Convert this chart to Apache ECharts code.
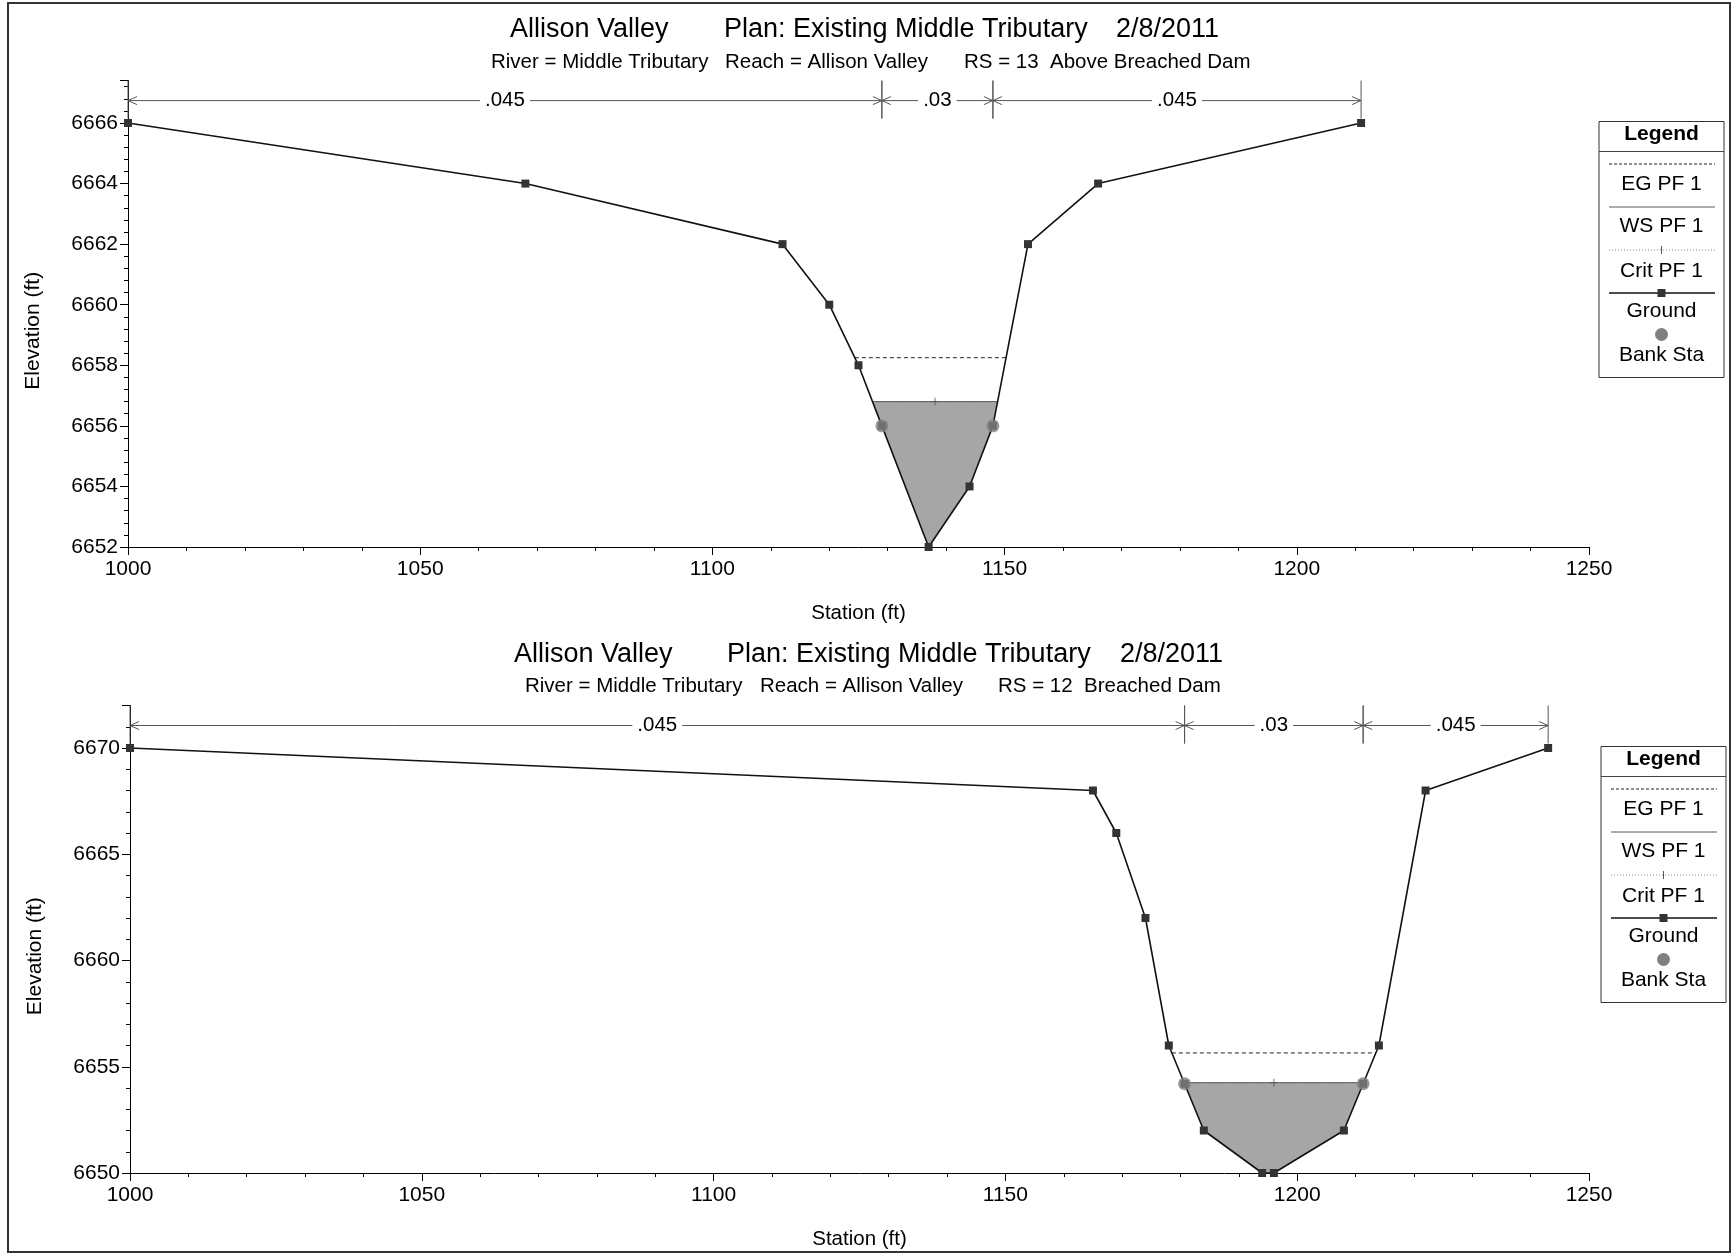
<!DOCTYPE html>
<html>
<head>
<meta charset="utf-8">
<script src="https://cdn.jsdelivr.net/npm/echarts@6/dist/echarts.min.js"></script>
<style>
  html, body { margin: 0; padding: 0; background: #fff; }
  #chart { width: 1733px; height: 1257px; }
</style>
</head>
<body>
<div id="chart"></div>
<script>
// ---- RS 13 : Above Breached Dam ----
const rs13Station = [1000, 1068, 1112, 1120, 1125, 1129, 1137, 1144, 1148, 1154, 1166, 1211];
const rs13Elev    = [6666, 6664, 6662, 6660, 6658, 6656, 6652, 6654, 6656, 6662, 6664, 6666];
const rs13Banks   = [1129, 1148];
const rs13WS   = 6656.8;
const rs13EG   = 6658.25;
const rs13Crit = 6656.8;
const rs13N    = ['.045', '.03', '.045'];
const rs13YTicks = [6652, 6654, 6656, 6658, 6660, 6662, 6664, 6666];

// ---- RS 12 : Breached Dam ----
const rs12Station = [1000, 1165, 1169, 1174, 1178, 1180.7, 1184, 1194, 1196, 1208, 1211.3, 1214, 1222, 1243];
const rs12Elev    = [6670, 6668, 6666, 6662, 6656, 6654.2, 6652, 6650, 6650, 6652, 6654.2, 6656, 6668, 6670];
const rs12Banks   = [1180.7, 1211.3];
const rs12WS   = 6654.25;
const rs12EG   = 6655.65;
const rs12Crit = 6654.25;
const rs12N    = ['.045', '.03', '.045'];
const rs12YTicks = [6650, 6655, 6660, 6665, 6670];

const xTicks = [1000, 1050, 1100, 1150, 1200, 1250];

const FONT = '"Liberation Sans", Arial, Helvetica, sans-serif';

// where a horizontal level meets the ground on either side of the thalweg
function levelEdges(st, el, level) {
  let m = 0;
  for (let k = 1; k < el.length; k++) if (el[k] < el[m]) m = k;
  let i = m;
  while (i > 0 && el[i - 1] < level) i--;
  let j = m;
  while (j < el.length - 1 && el[j + 1] < level) j++;
  const interp = (a, b) => st[a] + (level - el[a]) * (st[b] - st[a]) / (el[b] - el[a]);
  const left = i > 0 ? interp(i - 1, i) : st[0];
  const right = j < el.length - 1 ? interp(j + 1, j) : st[st.length - 1];
  return { left, right, i, j };
}

function elevAt(st, el, x) {
  for (let k = 0; k < st.length - 1; k++) {
    if (x >= st[k] && x <= st[k + 1]) {
      return el[k] + (x - st[k]) * (el[k + 1] - el[k]) / (st[k + 1] - st[k]);
    }
  }
  return el[el.length - 1];
}

function sectionSeries(idx, st, el, banks, ws, eg, crit, nLabels, yMin) {
  const ground = st.map((s, k) => [s, el[k]]);
  const wsE = levelEdges(st, el, ws);
  const egE = levelEdges(st, el, eg);
  const crE = levelEdges(st, el, crit);
  const water = [[wsE.left, ws]];
  for (let k = wsE.i; k <= wsE.j; k++) water.push([st[k], el[k]]);
  water.push([wsE.right, ws]);

  const bounds = [st[0], banks[0], banks[1], st[st.length - 1]];
  const reachData = nLabels.map((_, k) => [bounds[k], bounds[k + 1], yMin]);

  const base = { xAxisIndex: idx, yAxisIndex: idx, animation: false, silent: true };
  return [
    Object.assign({}, base, {
      type: 'custom',
      z: 1,
      data: [[water[0][0], water[0][1]]],
      renderItem: (params, api) => ({
        type: 'polygon',
        shape: { points: water.map(p => api.coord(p)) },
        style: { fill: '#a6a6a6' }
      })
    }),
    Object.assign({}, base, {
      type: 'line', name: 'Crit PF 1', z: 2, symbol: 'none',
      data: [[crE.left, crit], [crE.right, crit]],
      lineStyle: { color: '#888', width: 1, type: [1, 2] }
    }),
    Object.assign({}, base, {
      type: 'scatter', z: 3,
      data: [[(crE.left + crE.right) / 2, crit]],
      symbol: 'path://M5,0 L5,10 M0,5 L10,5', symbolSize: 8,
      itemStyle: { color: 'none', borderColor: '#555', borderWidth: 1 }
    }),
    Object.assign({}, base, {
      type: 'line', name: 'WS PF 1', z: 3, symbol: 'none',
      data: [[wsE.left, ws], [wsE.right, ws]],
      lineStyle: { color: '#5a5a5a', width: 1 }
    }),
    Object.assign({}, base, {
      type: 'line', name: 'EG PF 1', z: 3, symbol: 'none',
      data: [[egE.left, eg], [egE.right, eg]],
      lineStyle: { color: '#222', width: 1, type: [4, 3] }
    }),
    Object.assign({}, base, {
      type: 'line', name: 'Ground', z: 4,
      data: ground,
      symbol: 'rect', symbolSize: 8, showSymbol: true,
      itemStyle: { color: '#333' },
      lineStyle: { color: '#111', width: 1.6 }
    }),
    Object.assign({}, base, {
      type: 'scatter', name: 'Bank Sta', z: 5,
      data: banks.map(b => [b, elevAt(st, el, b)]),
      symbol: 'circle', symbolSize: 13,
      itemStyle: { color: '#808080' }
    }),
    Object.assign({}, base, {
      type: 'custom', z: 6, clip: false,
      data: reachData,
      encode: { x: [0, 1], y: 2 },
      renderItem: (params, api) => {
        const cs = params.coordSys;
        const p1 = api.coord([api.value(0), api.value(2)])[0];
        const p2 = api.coord([api.value(1), api.value(2)])[0];
        const y = cs.y + 20, yT = cs.y, yB = cs.y + 38;
        const stroke = { stroke: '#555', lineWidth: 1, fill: 'none' };
        return {
          type: 'group',
          children: [
            { type: 'line', shape: { x1: p1, y1: y, x2: p2, y2: y }, style: stroke },
            { type: 'polyline', shape: { points: [[p1 + 9, y - 4], [p1, y], [p1 + 9, y + 4]] }, style: stroke },
            { type: 'polyline', shape: { points: [[p2 - 9, y - 4], [p2, y], [p2 - 9, y + 4]] }, style: stroke },
            { type: 'line', shape: { x1: p1, y1: yT, x2: p1, y2: yB }, style: stroke },
            { type: 'line', shape: { x1: p2, y1: yT, x2: p2, y2: yB }, style: stroke },
            {
              type: 'text', z2: 10,
              style: {
                text: nLabels[params.dataIndex], x: (p1 + p2) / 2, y: y,
                align: 'center', verticalAlign: 'middle',
                fontSize: 20.5, fontFamily: FONT, fill: '#000',
                backgroundColor: '#fff', padding: [0, 5]
              }
            }
          ]
        };
      }
    })
  ];
}

function xAxisFor(idx) {
  return {
    type: 'value', gridIndex: idx,
    min: xTicks[0], max: xTicks[xTicks.length - 1], interval: xTicks[1] - xTicks[0],
    axisLine: { show: true, onZero: false, lineStyle: { color: '#000', width: 1 } },
    axisTick: { show: true, length: 8, lineStyle: { color: '#000' } },
    minorTick: { show: true, splitNumber: 5, length: 4, lineStyle: { color: '#000' } },
    splitLine: { show: false },
    axisLabel: { fontSize: 21, fontFamily: FONT, color: '#000', margin: 12, formatter: v => String(v) },
    name: 'Station (ft)', nameLocation: 'middle', nameGap: 56,
    nameTextStyle: { fontSize: 20.5, fontFamily: FONT, color: '#000' }
  };
}

function yAxisFor(idx, ticks, max) {
  return {
    type: 'value', gridIndex: idx,
    min: ticks[0], max: max, interval: ticks[1] - ticks[0],
    axisLine: { show: true, onZero: false, lineStyle: { color: '#000', width: 1 } },
    axisTick: { show: true, length: 8, lineStyle: { color: '#000' } },
    minorTick: { show: true, splitNumber: 5, length: 4, lineStyle: { color: '#000' } },
    splitLine: { show: false },
    axisLabel: {
      fontSize: 21, fontFamily: FONT, color: '#000', margin: 10, showMaxLabel: false,
      formatter: v => (ticks.indexOf(v) >= 0 ? String(v) : '')
    },
    name: 'Elevation (ft)', nameLocation: 'middle', nameGap: 84, nameRotate: 90,
    nameTextStyle: { fontSize: 21, fontFamily: FONT, color: '#000', padding: [0, 34, 0, 0] }
  };
}

function txt(text, x, y, size, extra) {
  return {
    type: 'text',
    style: Object.assign({
      text, x, y, verticalAlign: 'middle', align: 'left',
      fontSize: size, fontFamily: FONT, fill: '#000'
    }, extra || {})
  };
}

function legendBox(left, top) {
  const w = 125, h = 256, cx = w / 2;
  const c = (t, y, extra) => txt(t, cx, y, 21, Object.assign({ align: 'center' }, extra || {}));
  return {
    type: 'group', x: left, y: top,
    children: [
      { type: 'rect', shape: { x: 0, y: 0, width: w, height: h }, style: { fill: '#fff', stroke: '#333', lineWidth: 1 } },
      c('Legend', 13, { fontWeight: 'bold' }),
      { type: 'line', shape: { x1: 0, y1: 30, x2: w, y2: 30 }, style: { stroke: '#444', lineWidth: 1 } },
      { type: 'line', shape: { x1: 10, y1: 42.5, x2: 116, y2: 42.5 }, style: { stroke: '#222', lineWidth: 1, lineDash: [3, 2] } },
      c('EG PF 1', 62.5),
      { type: 'line', shape: { x1: 10, y1: 85.5, x2: 116, y2: 85.5 }, style: { stroke: '#5a5a5a', lineWidth: 1 } },
      c('WS PF 1', 105),
      { type: 'line', shape: { x1: 10, y1: 128.5, x2: 116, y2: 128.5 }, style: { stroke: '#888', lineWidth: 1, lineDash: [1, 2] } },
      { type: 'line', shape: { x1: cx, y1: 124.5, x2: cx, y2: 132.5 }, style: { stroke: '#555', lineWidth: 1 } },
      c('Crit PF 1', 150),
      { type: 'line', shape: { x1: 10, y1: 171.5, x2: 116, y2: 171.5 }, style: { stroke: '#111', lineWidth: 1.6 } },
      { type: 'rect', shape: { x: cx - 4, y: 167.5, width: 8, height: 8 }, style: { fill: '#333' } },
      c('Ground', 190),
      { type: 'circle', shape: { cx: cx, cy: 213, r: 6.5 }, style: { fill: '#808080' } },
      c('Bank Sta', 234)
    ]
  };
}

const chart = echarts.init(document.getElementById('chart'), null, { renderer: 'canvas' });

chart.setOption({
  backgroundColor: '#fff',
  animation: false,
  textStyle: { fontFamily: FONT },
  grid: [
    { left: 128, right: 144, top: 80.6, height: 466.4, containLabel: false },
    { left: 130, right: 144, top: 705.5, height: 467.5, containLabel: false }
  ],
  xAxis: [xAxisFor(0), xAxisFor(1)],
  yAxis: [yAxisFor(0, rs13YTicks, 6667.4), yAxisFor(1, rs12YTicks, 6672)],
  series: [].concat(
    sectionSeries(0, rs13Station, rs13Elev, rs13Banks, rs13WS, rs13EG, rs13Crit, rs13N, rs13YTicks[0]),
    sectionSeries(1, rs12Station, rs12Elev, rs12Banks, rs12WS, rs12EG, rs12Crit, rs12N, rs12YTicks[0])
  ),
  graphic: [
    { type: 'rect', shape: { x: 8, y: 3, width: 1722, height: 1249 }, style: { fill: 'none', stroke: '#333', lineWidth: 2 }, z: 100 },
    txt('Allison Valley', 510, 30, 27),
    txt('Plan: Existing Middle Tributary', 724, 30, 27),
    txt('2/8/2011', 1116, 30, 27),
    txt('River = Middle Tributary', 491, 62, 20.5),
    txt('Reach = Allison Valley', 725, 62, 20.5),
    txt('RS = 13  Above Breached Dam', 964, 62, 20.5),
    txt('Allison Valley', 514, 655, 27),
    txt('Plan: Existing Middle Tributary', 727, 655, 27),
    txt('2/8/2011', 1120, 655, 27),
    txt('River = Middle Tributary', 525, 686, 20.5),
    txt('Reach = Allison Valley', 760, 686, 20.5),
    txt('RS = 12  Breached Dam', 998, 686, 20.5),
    legendBox(1599, 121.5),
    legendBox(1601, 746.5)
  ]
});
</script>
</body>
</html>
